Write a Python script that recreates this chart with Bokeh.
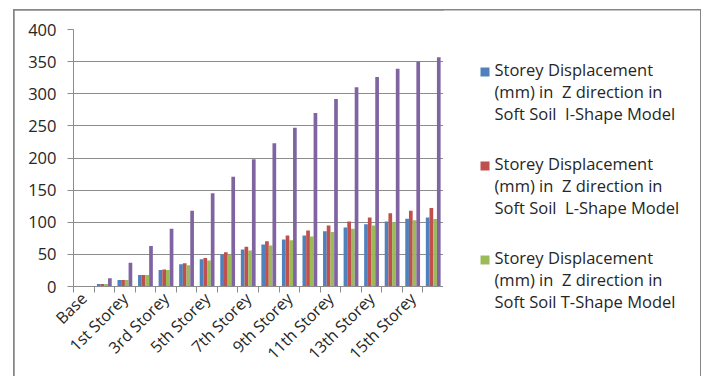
from bokeh.plotting import figure
from bokeh.layouts import row, column
from bokeh.models import Range1d, FixedTicker
from bokeh.core.properties import value
from bokeh.embed import file_html
from bokeh.resources import INLINE

# Storey levels (every other one is labelled on the axis)
categories = ["Base", "Ground Storey"] + [
    "1st Storey", "2nd Storey", "3rd Storey", "4th Storey", "5th Storey",
    "6th Storey", "7th Storey", "8th Storey", "9th Storey", "10th Storey",
    "11th Storey", "12th Storey", "13th Storey", "14th Storey", "15th Storey",
    "16th Storey"]

# Storey displacement (mm) in Z direction, soft soil
i_shape = [0, 4, 10, 18, 25.5, 34.5, 42.5, 50, 57.5, 65.5, 73, 79.5, 86, 92, 97, 101, 105.5, 107.5]
l_shape = [0, 4, 10, 18, 26.5, 36, 44.5, 53.5, 62, 70.5, 79.5, 87, 95, 101, 107.5, 114, 118, 122]
t_shape = [0, 4, 10, 18, 25.5, 33, 40.5, 50, 56, 64, 72, 78, 85, 90, 95, 100, 103, 105]
fourth = [0, 13, 37, 63, 90, 118, 145, 171, 198, 223, 247, 270, 292, 310, 326, 339, 350, 357]

# legend texts (a no-break space keeps the doubled gaps)
legend_labels = [
    "Storey Displacement\n(mm) in \u00a0Z direction in\nSoft Soil \u00a0I-Shape Model",
    "Storey Displacement\n(mm) in \u00a0Z direction in\nSoft Soil \u00a0L-Shape Model",
    "Storey Displacement\n(mm) in \u00a0Z direction in\nSoft Soil T-Shape Model",
]
colors = ["#4F81BD", "#C0504D", "#9BBB59", "#8064A2"]
y_ticks = [0, 50, 100, 150, 200, 250, 300, 350, 400]

FONT = "Open Sans"
TEXT = "#262626"
GRID = "#8C8C8C"

p = figure(frame_width=370, frame_height=257, output_backend="svg", toolbar_location=None,
           x_range=Range1d(-0.5, len(categories) - 0.5), y_range=Range1d(0, 400),
           min_border_left=59, min_border_right=0, min_border_top=19,
           min_border_bottom=94)
p.outline_line_color = None

xs = list(range(len(categories)))
bar_w = 0.18
offsets = [-0.27, -0.09, 0.09, 0.27]
for vals, col, off in zip([i_shape, l_shape, t_shape, fourth], colors, offsets):
    p.vbar(x=[x + off for x in xs], top=vals, width=bar_w, bottom=0,
           fill_color=col, line_color=None)

# y axis
p.yaxis.ticker = FixedTicker(ticks=y_ticks)
p.yaxis.axis_line_color = GRID
p.yaxis.major_tick_line_color = GRID
p.yaxis.major_tick_out = 6
p.yaxis.major_tick_in = 0
p.yaxis.minor_tick_line_color = None
p.yaxis.major_label_text_font = FONT
p.yaxis.major_label_text_font_size = "16.5px"
p.yaxis.major_label_text_color = TEXT
p.yaxis.major_label_standoff = 11
p.ygrid.grid_line_color = GRID
p.ygrid.grid_line_width = 1

# x axis: labels at category centres, tick marks at the boundaries
p.xaxis.ticker = FixedTicker(ticks=xs, minor_ticks=[x - 0.5 for x in xs] + [xs[-1] + 0.5])
p.xaxis.major_label_overrides = {i: (c if i % 2 == 0 else "") for i, c in enumerate(categories)}
p.xaxis.major_tick_line_color = None
p.xaxis.minor_tick_line_color = GRID
p.xaxis.minor_tick_out = 6
p.xaxis.minor_tick_in = 0
p.xaxis.axis_line_color = GRID
p.xaxis.major_label_orientation = 0.785398
p.xaxis.major_label_text_font = FONT
p.xaxis.major_label_text_font_size = "16px"
p.xaxis.major_label_text_color = TEXT
p.xaxis.major_label_standoff = 3
p.xgrid.grid_line_color = None

# legend panel: pixel-like coordinates, y increasing downwards
q = figure(frame_width=257, frame_height=370, output_backend="svg", toolbar_location=None,
           x_range=Range1d(0, 257), y_range=Range1d(370, 0),
           min_border=0, x_axis_type=None, y_axis_type=None)
q.outline_line_color = None
q.grid.visible = False
key_top = [57 + 94 * k for k in range(3)]
q.quad(left=37, right=46, top=key_top, bottom=[t + 9 for t in key_top],
       fill_color=colors[:3], line_color=None)
q.text(x=51, y=[t - 10 for t in key_top], text=legend_labels,
       text_font=value(FONT), text_font_size="16.5px", text_color=TEXT,
       text_baseline="top", text_align="left", text_line_height=0.96)

layout = row(p, column(q), margin=(10, 5, 0, 14),
             styles={"outline": "2px solid #868686", "outline-offset": "-1px"})

open("out.html", "w").write(file_html(layout, INLINE))
